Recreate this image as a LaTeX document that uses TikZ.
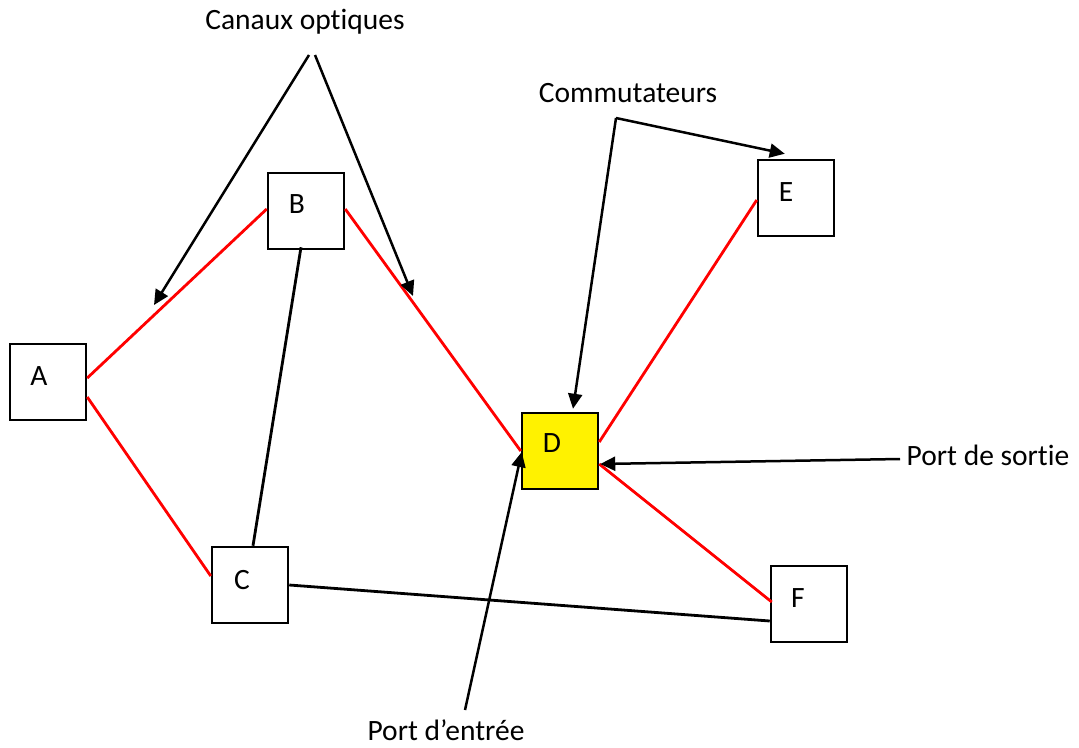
\documentclass[tikz,border=0pt]{standalone}
\usepackage{fontspec}
\setmainfont[Ligatures=NoCommon]{Carlito}
\usetikzlibrary{calc,arrows.meta}
\tikzset{
  box/.style={draw=black,line width=2.5pt,minimum size=76pt,inner sep=0pt,fill=white},
  redlink/.style={draw=red,line width=2.8pt},
  blacklink/.style={draw=black,line width=2.8pt},
  pointer/.style={draw=black,line width=2.5pt,-{Triangle[length=15pt,width=14pt]}},
  lbl/.style={font=\fontsize{29.5}{34}\selectfont,inner sep=0pt},
}
\begin{document}
\begin{tikzpicture}[x=1pt,y=-1pt]
\useasboundingbox (0,0) rectangle (1079,747);
% boxes
\node[box] (A) at (48,382) {};
\node[box] (B) at (306,211) {};
\node[box] (C) at (250,585) {};
\node[box,fill=yellow] (D) at (560,451) {};
\node[box] (E) at (796,198) {};
\node[box] (F) at (809,604) {};
% box labels
\node[lbl] (Al) at (39,376) {A};
\node[lbl] (Bl) at (297,204) {B};
\node[lbl] (Cl) at (242,580) {C};
\node[lbl] (Dl) at (552,443) {D};
\node[lbl] (El) at (786,192) {E};
\node[lbl] (Fl) at (798,598) {F};
% links
\draw[redlink] ($(A.east)+(0,-4)$) -- ($(B.west)+(0,-2)$);
\draw[redlink] ($(A.east)+(0,15)$) -- ($(C.west)+(0,-9)$);
\draw[blacklink] ($(B.south)+(-5,-3)$) -- ($(C.north)+(3,0)$);
\draw[redlink] ($(B.east)+(0,-2)$) -- ($(D.west)+(0,0)$);
\draw[redlink] ($(D.east)+(0,-9)$) -- ($(E.west)+(0,2)$);
\draw[redlink] ($(D.east)+(0,13)$) -- ($(F.west)+(2,-2)$);
\draw[blacklink] ($(C.east)+(0,0)$) -- ($(F.west)+(0,17)$);
% labels
\node[lbl] (canaux) at (305,22) {Canaux optiques};
\node[lbl] (comm) at (628,93) {Commutateurs};
\node[lbl] (sortie) at (988,455) {Port de sortie};
\node[lbl] (entree) at (446,730) {Port d’entrée};
% pointer coordinates
\coordinate (c1) at (309,55);
\coordinate (c2) at (315,55);
\coordinate (t1) at (154,305);
\coordinate (t2) at (413,296);
\coordinate (k) at (616,118);
\coordinate (s0) at (900,459);
\coordinate (e0) at (465,710);
% pointers
\draw[pointer] (c1) -- (t1);
\draw[pointer] (c2) -- (t2);
\draw[pointer] (k) -- ($(E.north west)+(28,-5)$);
\draw[pointer] (k) -- ($(D.north)+(13,-3)$);
\draw[pointer] (s0) -- ($(D.east)+(1,13)$);
\draw[pointer] (e0) -- ($(D.west)+(1,1)$);
\end{tikzpicture}
\end{document}
